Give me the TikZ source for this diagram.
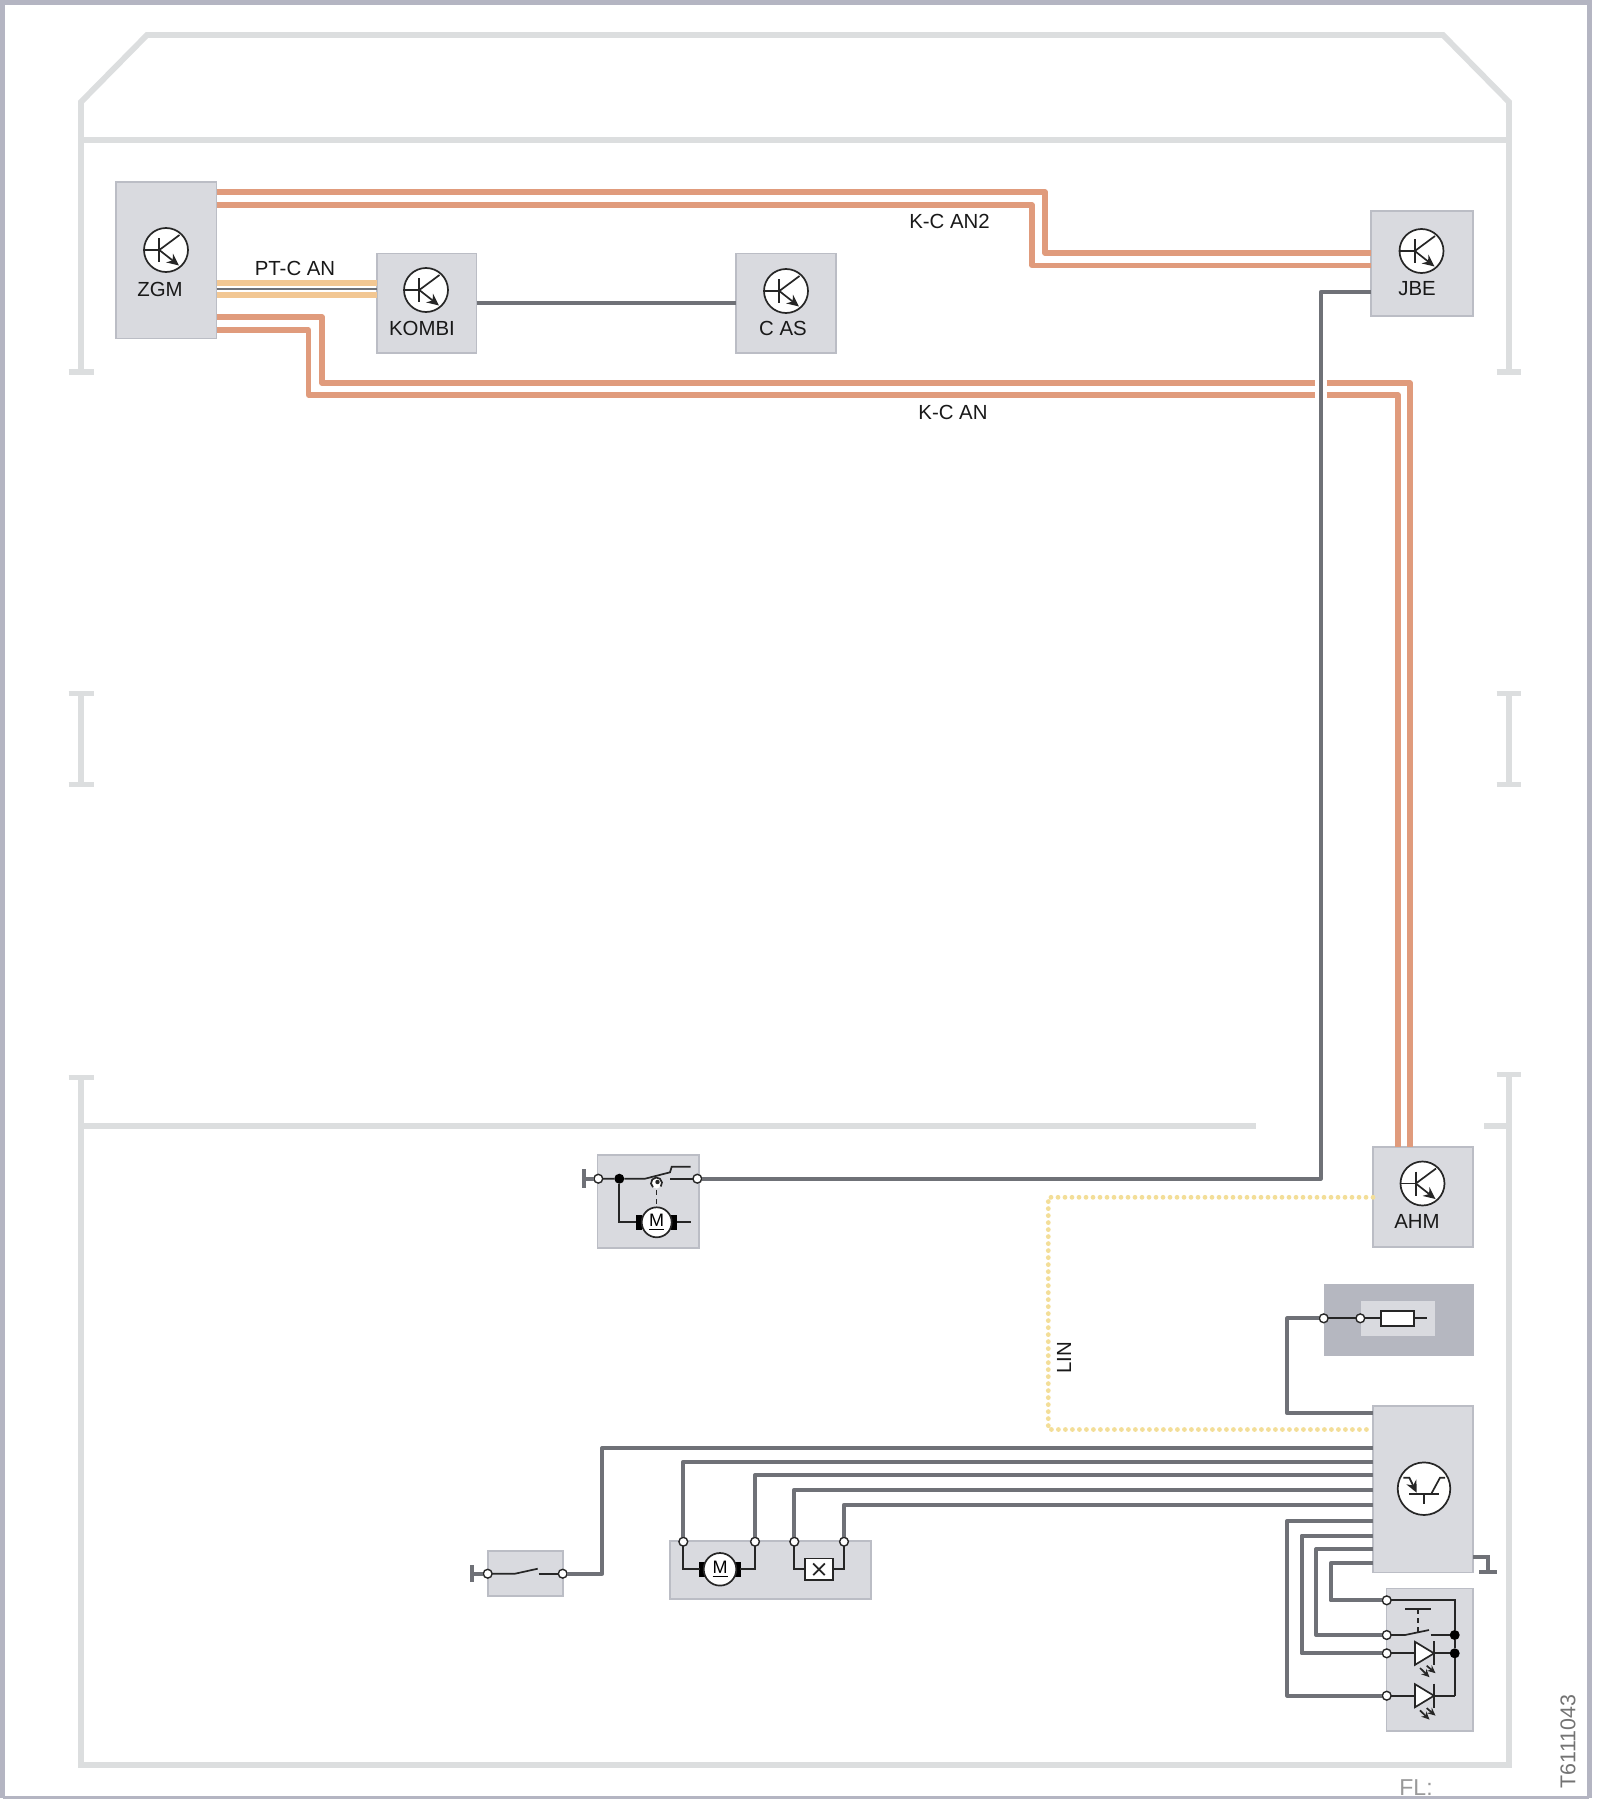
\documentclass[tikz,border=0pt]{standalone}
\usepackage{fontspec}
\setmainfont{Liberation Sans}
\usetikzlibrary{arrows.meta}
\definecolor{framec}{HTML}{B4B5C2}
\definecolor{housec}{HTML}{DCDEDF}
\definecolor{boxc}{HTML}{D9DADF}
\definecolor{boxedge}{HTML}{BBBDC5}
\definecolor{darkbox}{HTML}{B5B7C0}
\definecolor{kcan}{HTML}{E09B7C}
\definecolor{ptcan}{HTML}{F2C793}
\definecolor{wirec}{HTML}{6F7177}
\definecolor{linc}{HTML}{F3DE98}
\newcommand{\mybox}[6][modbox]{%
  \pgfmathsetlengthmacro{\myw}{(#5-#3)*0.5pt}%
  \pgfmathsetlengthmacro{\myh}{(#6-#4)*0.5pt}%
  \node[#1,minimum width=\myw,minimum height=\myh] (#2) at ({(#3+#5)/2},{(#4+#6)/2}) {};}
\newcommand{\transistor}[3]{%
  \node[symcircle,minimum size=22pt] (#1) at (#2,#3) {};
  \begin{scope}[shift={(#2,#3)}]
    \draw[thin wire] (-21.5,0) -- (-6.7,0);
    \draw[thin wire] (-6.7,-12) -- (-6.7,12.3);
    \draw[thin wire] (-6.7,0) -- (13.5,-15);
    \draw[thin wire,-{Stealth[length=6pt,width=5.5pt]}] (-6.7,0) -- (13,15.5);
  \end{scope}}
\newcommand{\motorsym}[4]{%
  \begin{scope}[shift={(#2,#3)}]
    \fill[black] (-20.7,-7.6) rectangle (-14.5,7.6);
    \fill[black] (14.5,-7.6) rectangle (20.7,7.6);
  \end{scope}
  \node[symcircle,minimum size=#4pt,font=\fontsize{9}{10}\selectfont] (#1) at (#2,#3) {\underline{M}};}
\newcommand{\ledsym}[3]{%
  \begin{scope}[shift={(#2,#3)}]
    \draw[thin wire,fill=white] (-19,-11.5) -- (-19,11.5) -- (0,0) -- cycle;
    \draw[thin wire] (0,-12) -- (0,12);
    \draw[thin wire,-{Stealth[length=4pt,width=3.6pt]}] (-14,14.7) -- (-4.5,23.9);
    \draw[thin wire,-{Stealth[length=4pt,width=3.6pt]}] (-7.3,12.4) -- (1.5,19.9);
  \end{scope}
  \coordinate (#1) at (#2,#3);}
\begin{document}
\begin{tikzpicture}[x=0.5pt,y=-0.5pt,
  modbox/.style={draw=boxedge,fill=boxc,line width=0.7pt,inner sep=0pt,outer sep=0pt},
  plainbox/.style={fill=boxc,inner sep=0pt,outer sep=0pt},
  fusebay/.style={fill=darkbox,inner sep=0pt,outer sep=0pt},
  house/.style={draw=housec,line width=2.9pt,line join=miter},
  kline/.style={draw=kcan,line width=2.7pt,line join=round},
  ptline/.style={draw=ptcan,line width=2.7pt},
  wire/.style={draw=wirec,line width=2pt,line join=round},
  thin wire/.style={draw=black!85,line width=0.85pt},
  linbus/.style={draw=linc,line width=2.4pt,line cap=round,dash pattern=on 0pt off 3.5pt},
  symcircle/.style={draw=black!85,fill=white,circle,line width=0.85pt,inner sep=0pt,outer sep=0pt},
  term/.style={circle,draw=black!85,fill=white,line width=0.7pt,minimum size=4.4pt,inner sep=0pt,outer sep=0pt},
  jdot/.style={circle,fill=black,minimum size=5pt,inner sep=0pt,outer sep=0pt},
  lbl/.style={font=\fontsize{10.2}{12}\selectfont,text=black!90,inner sep=0pt}]
\useasboundingbox (0,0) rectangle (1600,1814);
\fill[white] (0,0) rectangle (1600,1814);
% outer frame
\draw[framec,line width=2.5pt] (2.5,1797.5) -- (2.5,2.5) -- (1589,2.5) -- (1589,1797.5);
\draw[framec,line width=1.1pt] (2.5,1797.5) -- (1589,1797.5);
% house outline
\draw[house] (81,372) -- (81,102) -- (147,35) -- (1443,35) -- (1509,102) -- (1509,372);
\draw[house] (81,140) -- (1509,140);
\draw[house] (68.5,372) -- (93.5,372);
\draw[house] (1496.5,372) -- (1521,372);
\draw[house] (81,693.5) -- (81,784.5) (68.5,693.5) -- (93.5,693.5) (68.5,784.5) -- (93.5,784.5);
\draw[house] (1509,693.5) -- (1509,784.5) (1496.5,693.5) -- (1521,693.5) (1496.5,784.5) -- (1521,784.5);
\draw[house] (68.5,1077.5) -- (93.5,1077.5);
\draw[house] (1496.5,1074.5) -- (1521,1074.5);
\draw[house] (81,1077.5) -- (81,1765) -- (1509,1765) -- (1509,1074.5);
\draw[house] (81,1126) -- (1256,1126);
\draw[house] (1484,1126) -- (1509,1126);
% modules
\mybox{zgm}{116}{182}{216.7}{338.5}
\mybox{kombi}{377}{253.5}{476.5}{353}
\mybox{cas}{736}{253.5}{836}{353}
\mybox{jbe}{1371}{211}{1473}{316}
\mybox{ahm}{1373}{1147}{1473}{1247}
\mybox{mirrorbox}{597.5}{1155}{699}{1248}
\mybox[fusebay]{fusebox}{1324}{1284}{1474}{1355.5}
\mybox[plainbox]{fuseinner}{1361}{1301}{1434.5}{1336}
\mybox{ctrl}{1373}{1406}{1473}{1572.5}
\mybox{latchbox}{488}{1551}{563}{1596}
\mybox{drivebox}{670}{1541}{871}{1599}
\mybox{ledbox}{1386.5}{1588.5}{1473}{1731}
% symbols and labels in modules
\transistor{zgmsym}{166}{250}
\transistor{kombisym}{426}{290}
\transistor{cassym}{786}{291}
\transistor{jbesym}{1421.5}{251}
\transistor{ahmsym}{1422.5}{1183.5}
\node[lbl] (zgmtext) at (160,289) {ZGM};
\node[lbl] (kombitext) at (422,328) {KOMBI};
\node[lbl] (castext) at (783,328) {C AS};
\node[lbl] (jbetext) at (1417,289) {JBE};
\node[lbl] (ahmtext) at (1417,1221) {AHM};
\node[lbl] (ptcanlabel) at (295,268) {PT-C AN};
\node[lbl] (kcan2label) at (949.5,221.5) {K-C AN2};
\node[lbl] (kcanlabel) at (953,412.5) {K-C AN};
\node[lbl,rotate=90] (linlabel) at (1064,1358) {LIN};
\node[font=\fontsize{10.7}{12}\selectfont,text=black!55,rotate=90,inner sep=0pt] (partno) at (1568,1741.5) {T6111043};
\node[font=\fontsize{11.5}{13}\selectfont,text=black!40,inner sep=0pt,anchor=south west] (flmark) at (1399,1796) {FL:};
% terminals
\node[term] (mirrorgnd) at (598.3,1178.7) {};
\node[term] (mirrorout) at (697.3,1178.7) {};
\node[term] (fuseout) at (1323.7,1318.3) {};
\node[term] (fusein) at (1360.3,1318.3) {};
\node[term] (latchgnd) at (487.7,1573.7) {};
\node[term] (latchout) at (562.7,1573.7) {};
\node[term] (m1) at (683.3,1541.7) {};
\node[term] (m2) at (755,1541.7) {};
\node[term] (x1) at (794.3,1541.7) {};
\node[term] (x2) at (844,1541.7) {};
\node[term] (l1) at (1386.7,1600.3) {};
\node[term] (l2) at (1386.7,1635) {};
\node[term] (l3) at (1386.7,1653.3) {};
\node[term] (l4) at (1386.7,1695.7) {};
\node[jdot] (mirrordot) at (619.3,1178.7) {};
\node[jdot] (railtop) at (1454.7,1635) {};
\node[jdot] (railmid) at (1454.7,1653.3) {};
\coordinate (railbottom) at (1454.7,1695.7);
\coordinate (railstart) at (1454.7,1600.3);
% buses
\draw[kline] (zgm.east |- 0,192) -- (1045,192) -- (1045,253) -- (jbe.west |- 0,253);
\draw[kline] (zgm.east |- 0,205) -- (1032,205) -- (1032,265.5) -- (jbe.west |- 0,265.5);
\draw[kline] (zgm.east |- 0,317) -- (322,317) -- (322,383) -- (1315,383);
\draw[kline] (zgm.east |- 0,330) -- (308.5,330) -- (308.5,395) -- (1315,395);
\draw[kline] (1326.5,383) -- (1410,383) -- (ahm.north -| 1410,0);
\draw[kline] (1326.5,395) -- (1398,395) -- (ahm.north -| 1398,0);
\draw[ptline] (zgm.east |- 0,283) -- (kombi.west |- 0,283);
\draw[ptline] (zgm.east |- 0,295) -- (kombi.west |- 0,295);
\draw[draw=wirec,line width=1.2pt] (zgm.east |- 0,289) -- (kombi.west |- 0,289);
\draw[wire] (kombi.east |- 0,303) -- (cas.west |- 0,303);
\draw[wire] (jbe.west |- 0,292) -- (1320.7,292) -- (1320.7,1178.7) -- (mirrorout);
\draw[linbus] (ahm.west |- 0,1197.3) -- (1048.3,1197.3) -- (1048.3,1429.5) -- (ctrl.west |- 0,1429.5);
% mirror unit
\draw[draw=wirec,line width=1.8pt] (mirrorgnd) -- (584,1178.7);
\draw[draw=wirec,line width=2pt] (584,1169.3) -- (584,1187.5);
\draw[thin wire] (mirrorgnd) -- (mirrordot) -- (645,1178.7) -- (670,1172.3) -- (671.7,1166.7) -- (690.7,1166.7);
\draw[thin wire] (670,1178.7) -- (mirrorout);
\fill[white] (656.5,1183) circle[radius=5.5];
\draw[thin wire] (652.96,1187.2) arc (130:400:5.5);
\fill[black!85] (657.5,1182) circle[radius=2.2];
\draw[thin wire,dash pattern=on 2.5pt off 2pt] (656.5,1190) -- (656.5,1206);
\motorsym{mirrormotor}{656.7}{1222.3}{15}
\draw[thin wire] (mirrordot) |- (636,1222.3);
\draw[thin wire] (677,1222.3) -- (690.7,1222.3);
% fuse
\draw[wire] (fuseout) -- (1287.3,1318.3) -- (1287.3,1413.3) -- (ctrl.west |- 0,1413.3);
\draw[thin wire] (fuseout) -- (fusein);
\draw[thin wire] (fusein) -- (1426.7,1318.3);
\draw[thin wire,fill=white] (1381.3,1310.7) rectangle (1413.7,1326.3);
% control unit
\node[symcircle,minimum size=26.3pt] (ctrlsym) at (1424,1488.7) {};
\begin{scope}[shift={(ctrlsym.center)}]
  \draw[thin wire] (-14.7,5.6) -- (15.3,5.6);
  \draw[thin wire] (0,5.6) -- (0,15.6);
  \draw[thin wire,-{Stealth[length=6pt,width=5.5pt]}] (-20.7,-11) -- (-14.7,-11) -- (-7.3,4);
  \draw[thin wire] (7,5.6) -- (16,-11) -- (21,-11);
\end{scope}
% ground of the control unit
\draw[draw=wirec,line width=2pt] (ctrl.east |- 0,1556.7) -- (1488.3,1556.7) -- (1488.3,1571.7);
\draw[draw=wirec,line width=2pt] (1479,1571.7) -- (1496.7,1571.7);
% control wires
\draw[wire] (ctrl.west |- 0,1448.3) -- (602,1448.3) |- (latchout);
\draw[wire] (ctrl.west |- 0,1461.7) -| (m1);
\draw[wire] (ctrl.west |- 0,1475) -| (m2);
\draw[wire] (ctrl.west |- 0,1489.7) -| (x1);
\draw[wire] (ctrl.west |- 0,1504.7) -| (x2);
\draw[wire] (ctrl.west |- 0,1521) -- (1287.3,1521) |- (l4);
\draw[wire] (ctrl.west |- 0,1535.7) -- (1301.7,1535.7) |- (l3);
\draw[wire] (ctrl.west |- 0,1549.3) -- (1316,1549.3) |- (l2);
\draw[wire] (ctrl.west |- 0,1563.3) -- (1330.7,1563.3) |- (l1);
% latch switch
\draw[draw=wirec,line width=1.8pt] (latchgnd) -- (471.7,1573.7);
\draw[draw=wirec,line width=2pt] (471.7,1565) -- (471.7,1582);
\draw[thin wire] (latchgnd) -- (515,1573.7) -- (537.7,1568.7);
\draw[thin wire] (538.7,1573.7) -- (latchout);
% drive unit
\motorsym{drivemotor}{720}{1569.3}{16.3}
\draw[thin wire] (m1) |- (700,1569.3);
\draw[thin wire] (m2) |- (740,1569.3);
\node[draw=black!85,fill=white,line width=0.75pt,minimum width=14.15pt,minimum height=10.65pt,inner sep=0pt,outer sep=0pt] (xbox) at (819,1569.3) {};
\begin{scope}[shift={(xbox.center)}]
  \draw[thin wire] (-5.8,-5.8) -- (5.8,5.8);
  \draw[thin wire] (-5.8,5.8) -- (5.8,-5.8);
\end{scope}
\draw[thin wire] (x1) |- (xbox.west);
\draw[thin wire] (x2) |- (xbox.east);
% LED / switch unit
\draw[thin wire] (l1) -- (railstart) -- (railtop) -- (railmid) -- (railbottom);
\draw[thin wire] (l2) -- (1405,1635) -- (1429,1630);
\draw[thin wire] (1430.7,1635) -- (railtop);
\draw[thin wire] (1405,1609.3) -- (1430.7,1609.3);
\draw[thin wire,dash pattern=on 2.5pt off 2pt] (1417.7,1609.3) -- (1417.7,1631.7);
\draw[thin wire] (l3) -- (railmid);
\draw[thin wire] (l4) -- (railbottom);
\ledsym{led1}{1434}{1653.3}
\ledsym{led2}{1434}{1695.7}
\end{tikzpicture}
\end{document}
